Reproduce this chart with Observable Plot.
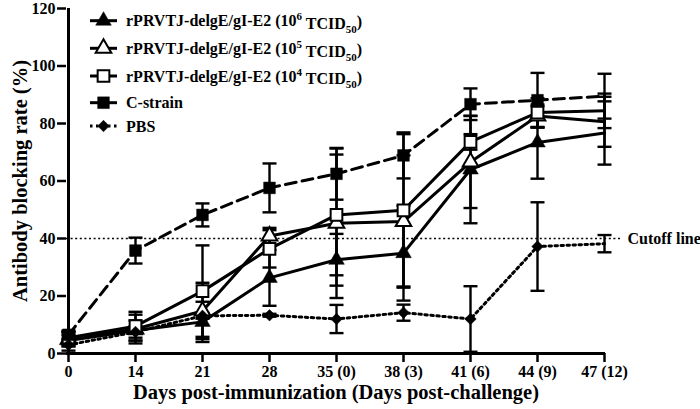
<!DOCTYPE html>
<html><head><meta charset="utf-8">
<script src="https://cdn.jsdelivr.net/npm/d3@7"></script>
<script src="https://cdn.jsdelivr.net/npm/@observablehq/plot@0.6"></script>
<style>body{margin:0;background:#fff} svg{display:block}</style>
</head><body><div id="chart"></div>
<script>
const days = ["0","14","21","28","35 (0)","38 (3)","41 (6)","44 (9)","47 (12)"];
const yTicks = [0,20,40,60,80,100,120];
const cutoff = 40;

const e6Mean = [4.5, 8, 11, 26.3, 32.6, 34.9, 64, 73.4, 76.7];
const e6Err  = [2, 3.5, 7, 9.7, 9, 16.5, 18.7, 12.6, 11];
const e5Mean = [5, 8.5, 14.8, 40.9, 45.3, 45.9, 66.6, 82.6, 80.6];
const e5Err  = [2.5, 5, 9.8, 2.8, 26, 23, 16, 4, 8.7];
const e4Mean = [5.5, 9.5, 21.7, 36.4, 48.2, 49.8, 73.6, 83.8, 84.4];
const e4Err  = [2, 5, 15.9, 6.5, 21, 26.5, 2.7, 5, 6];
const cMean  = [6.5, 35.8, 48.2, 57.6, 62.5, 68.9, 86.7, 88.1, 89.5];
const cErr   = [1.5, 4.5, 4, 8.5, 9, 8, 5.5, 9.5, 7.8];
const pMean  = [3, 7.5, 13.1, 13.3, 12, 14.2, 12, 37.2, 38.2];
const pErr   = [2, 2, 1, 0.5, 4.9, 2.8, 11.4, 15.4, 3];

const series = [
  {key:"e6", mean:e6Mean, err:e6Err, symbol:"triangle", fill:"black", dash:null, sup:"6"},
  {key:"e5", mean:e5Mean, err:e5Err, symbol:"triangle", fill:"white", dash:null, sup:"5"},
  {key:"e4", mean:e4Mean, err:e4Err, symbol:"square", fill:"white", dash:null, sup:"4"},
  {key:"C-strain", mean:cMean, err:cErr, symbol:"square", fill:"black", dash:"11,6"},
  {key:"PBS", mean:pMean, err:pErr, symbol:"diamond2", fill:"black", dash:"2.5,3.5"}
];

const rowsOf = s => days.map((d,i) => ({series:s.key, day:d, v:s.mean[i], lo:s.mean[i]-s.err[i], hi:s.mean[i]+s.err[i], last:i===days.length-1}));
const allRows = series.flatMap(rowsOf);

const hline = {draw(ctx, size){ const w = Math.sqrt(size/Math.PI); ctx.moveTo(-w,0); ctx.lineTo(w,0); }};
const symR = s => s.symbol === "triangle" ? 5.8 : s.symbol === "square" ? 6.6 : 5.2;

const marks = [
  Plot.ruleY([cutoff], {stroke:"black", strokeWidth:1.6, strokeDasharray:"2,2.6", insetRight:-16}),
  Plot.text(["Cutoff line"], {y:() => cutoff, frameAnchor:"right", dx:22, textAnchor:"start", fontSize:16, fontWeight:"bold"}),
];
for (const s of series) {
  marks.push(Plot.line(rowsOf(s), {x:"day", y:"v", stroke:"black", strokeWidth:3, strokeDasharray:s.dash ?? undefined}));
}
marks.push(
  Plot.ruleX(allRows, {x:"day", y1:"lo", y2:"hi", stroke:"black", strokeWidth:2.4}),
  Plot.dot(allRows, {x:"day", y:"hi", symbol:hline, r:7, fill:"none", stroke:"black", strokeWidth:2.4}),
  Plot.dot(allRows, {x:"day", y:"lo", symbol:hline, r:7, fill:"none", stroke:"black", strokeWidth:2.4})
);
for (const s of series) {
  const rows = rowsOf(s).filter(r => !r.last);
  marks.push(Plot.dot(rows, {x:"day", y:"v", symbol:s.symbol, r:symR(s), fill:s.fill, stroke:"black", strokeWidth: s.fill==="white" ? 2 : 0.5}));
}
marks.push(
  Plot.ruleY([0], {stroke:"black", strokeWidth:3}),
  Plot.ruleX([days[0]], {stroke:"black", strokeWidth:3}),
  Plot.axisY({ticks:yTicks, tickSize:9, tickPadding:2, strokeWidth:2.5, fontSize:16, fontWeight:"bold", label:null}),
  Plot.axisX({tickSize:9, tickPadding:3, strokeWidth:2.5, fontSize:16, fontWeight:"bold", label:null}),
  Plot.text(["Days post-immunization (Days post-challenge)"], {frameAnchor:"bottom", dy:45, fontSize:20.5, fontWeight:"bold"}),
  Plot.text(["Antibody blocking rate (%)"], {frameAnchor:"left", textAnchor:"middle", rotate:-90, dx:-46, fontSize:20.5, fontWeight:"bold"})
);

const plot = Plot.plot({
  width:700, height:409,
  marginLeft:66, marginRight:95, marginTop:8, marginBottom:56,
  x:{type:"point", domain:days, padding:0},
  y:{domain:[0,120]},
  style:{fontFamily:"'Liberation Serif','Times New Roman',serif", background:"white", color:"black", overflow:"visible"},
  marks
});
document.getElementById("chart").append(plot);

// legend
const svg = d3.select(plot);
const lg = svg.append("g")
  .attr("font-family","'Liberation Serif','Times New Roman',serif")
  .attr("font-weight","bold").attr("font-size",16).attr("text-anchor","start");
const legendY = [20.7, 48.3, 76, 102.7, 126];
const symMap = {triangle:d3.symbolTriangle, square:d3.symbolSquare, diamond2:d3.symbolDiamond2};
series.forEach((s,i) => {
  const y = legendY[i];
  const r = symR(s);
  lg.append("line").attr("x1",90).attr("x2",117).attr("y1",y).attr("y2",y)
    .attr("stroke","black").attr("stroke-width",3)
    .attr("stroke-dasharray", s.key==="PBS" ? "2.5,3.5" : null);
  lg.append("path").attr("d", d3.symbol(symMap[s.symbol], r*r*Math.PI)()).attr("transform",`translate(103.5,${y})`)
    .attr("fill", s.fill).attr("stroke","black").attr("stroke-width", s.fill==="white"?2:0.5);
  const t = lg.append("text").attr("x",126).attr("y",y).attr("dy","0.35em");
  if (s.sup) {
    t.append("tspan").text("rPRVTJ-delgE/gI-E2 (10");
    t.append("tspan").attr("font-size",11).attr("dy","-0.55em").text(s.sup);
    t.append("tspan").attr("dy","0.55em").text(" TCID");
    t.append("tspan").attr("font-size",11).attr("dy","0.35em").text("50");
    t.append("tspan").attr("dy","-0.35em").text(")");
  } else {
    t.text(s.key);
  }
});
</script>
</body></html>
